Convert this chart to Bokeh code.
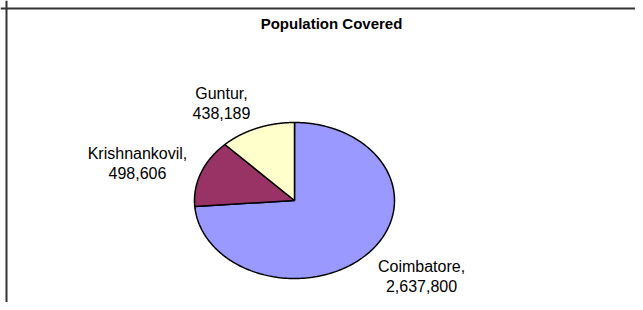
import numpy as np
from bokeh.plotting import figure
from bokeh.models import Range1d, ColumnDataSource, Span
from bokeh.core.properties import value
from bokeh.embed import file_html
from bokeh.resources import INLINE

# ---- data ----
categories = ["Coimbatore", "Krishnankovil", "Guntur"]
populations = [2637800, 498606, 438189]
colors = ["#9999FF", "#993366", "#FFFFCC"]
title_text = "Population Covered"

# ---- layout constants (pixel-like data coords, y downward) ----
W, H = 635, 302
CX, CY = 294, 200
RX, RY = 100, 78
label_pos = {"Coimbatore": (421, 276), "Krishnankovil": (137, 163), "Guntur": (221, 103)}

p = figure(width=W, height=H, output_backend="svg", toolbar_location=None,
           x_range=Range1d(0, W), y_range=Range1d(0, H),
           min_border=0, outline_line_color=None)
p.axis.visible = False
p.grid.visible = False
p.background_fill_color = "white"
p.border_fill_color = "white"

def fy(y):
    # convert a top-down pixel offset to the upward data axis
    return H - y

# chart area border (top and left edges visible)
p.add_layout(Span(location=fy(8), dimension="width", line_color="#333333", line_width=2))
p.add_layout(Span(location=6, dimension="height", line_color="#333333", line_width=2))

# slices: start at 12 o'clock, go clockwise
vals = np.array(populations, dtype=float)
fracs = vals / vals.sum()
ends = np.pi / 2 - 2 * np.pi * np.cumsum(fracs)
starts = np.concatenate([[np.pi / 2], ends[:-1]])
xs, ys = [], []
for a0, a1 in zip(starts, ends):
    t = np.linspace(a0, a1, 200)
    xs.append(list(np.concatenate([[CX], CX + RX * np.cos(t), [CX]])))
    ys.append(list(np.concatenate([[fy(CY)], fy(CY) + RY * np.sin(t), [fy(CY)]])))
src = ColumnDataSource(dict(xs=xs, ys=ys, color=colors, name=categories))
p.patches("xs", "ys", source=src, fill_color="color", line_color="black", line_width=1.5)

# labels
lab = ColumnDataSource(dict(
    x=[label_pos[c][0] for c in categories],
    y=[fy(label_pos[c][1]) for c in categories],
    text=[f"{c},\n{v:,}" for c, v in zip(categories, populations)]))
p.text("x", "y", "text", source=lab, text_align="center", text_baseline="middle",
       text_font=value("Liberation Sans"), text_font_size="16px", text_color="black",
       text_line_height=1.15)

# title
p.text(x=[331], y=[fy(23)], text=[title_text], text_align="center", text_baseline="middle",
       text_font=value("Liberation Sans"), text_font_size="15px", text_font_style="bold",
       text_color="black")

open("out.html", "w").write(file_html(p, INLINE))
